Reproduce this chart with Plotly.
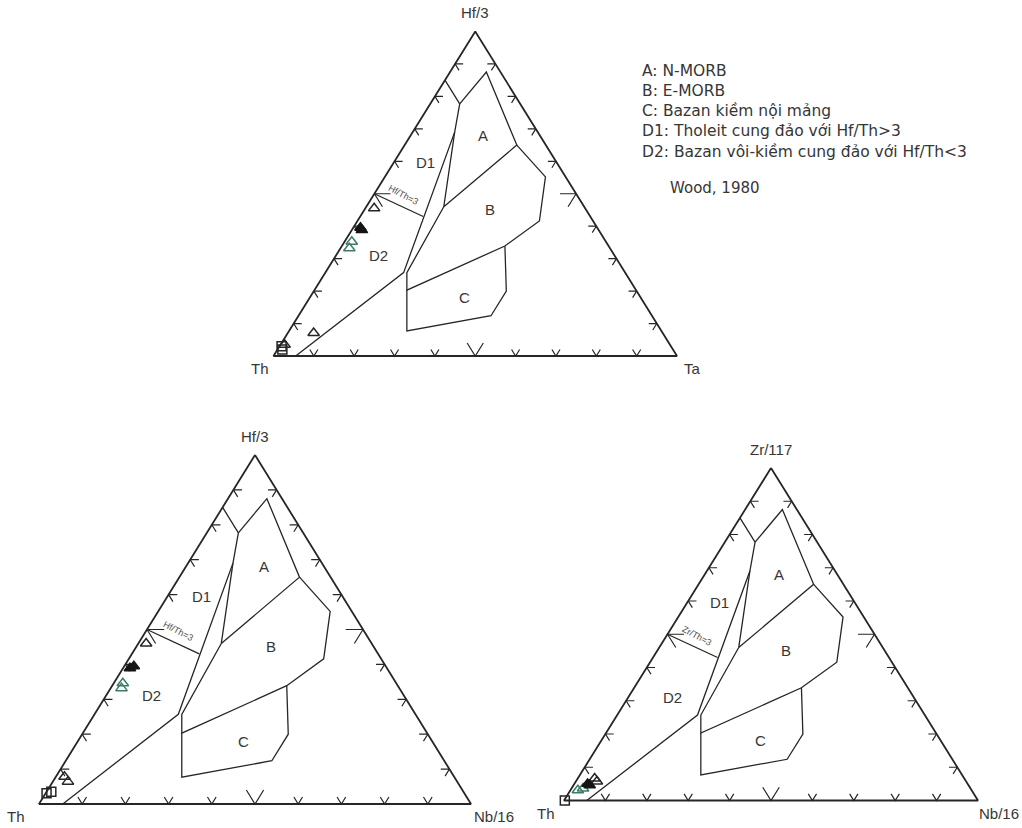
import plotly.graph_objects as go

FIG_W, FIG_H = 1022, 828

# ---------------------------------------------------------------------------
# Wood (1980) discrimination fields, given as (apex fraction, right-corner
# fraction); the left corner (Th) takes the remainder.
# ---------------------------------------------------------------------------
D_LINE_TOP = [0.850, 0.777, 0.690, 0.257, 0.000]
D_LINE_RIGHT = [0.000, 0.073, 0.104, 0.194, 0.055]

A_FIELD_TOP = [0.777, 0.875, 0.650, 0.460, 0.690]
A_FIELD_RIGHT = [0.073, 0.090, 0.278, 0.192, 0.104]

B_FIELD_TOP = [0.650, 0.552, 0.416, 0.339, 0.203, 0.257, 0.460]
B_FIELD_RIGHT = [0.278, 0.398, 0.451, 0.404, 0.229, 0.202, 0.192]

C_FIELD_TOP = [0.339, 0.200, 0.124, 0.077, 0.203]
C_FIELD_RIGHT = [0.404, 0.477, 0.477, 0.292, 0.229]

RATIO3_TOP = [0.500, 0.430]
RATIO3_RIGHT = [0.000, 0.156]

FIELD_NAMES = ["A", "B", "C", "D1", "D2"]
FIELD_LABEL_TOP = [0.680, 0.450, 0.180, 0.596, 0.310]
FIELD_LABEL_RIGHT = [0.180, 0.312, 0.384, 0.078, 0.106]

TICK_STEPS = [0.1, 0.2, 0.3, 0.4, 0.5, 0.6, 0.7, 0.8, 0.9]

# ---------------------------------------------------------------------------
# Corner names of the three diagrams
# ---------------------------------------------------------------------------
APEX_NAMES = ["Hf/3", "Hf/3", "Zr/117"]
LEFT_NAMES = ["Th", "Th", "Th"]
RIGHT_NAMES = ["Ta", "Nb/16", "Nb/16"]
RATIO_NAMES = ["Hf/Th=3", "Hf/Th=3", "Zr/Th=3"]

# ---------------------------------------------------------------------------
# Samples (apex fraction, right-corner fraction) for each diagram
# ---------------------------------------------------------------------------
# Th - Hf/3 - Ta
HFTA_OPEN_TOP = [0.455, 0.071, 0.035]
HFTA_OPEN_RIGHT = [0.022, 0.064, 0.010]
HFTA_BLACK_TOP = [0.388, 0.395]
HFTA_BLACK_RIGHT = [0.025, 0.018]
HFTA_GREEN_TOP = [0.352, 0.332]
HFTA_GREEN_RIGHT = [0.018, 0.022]
HFTA_SQUARE_TOP = [0.030, 0.020]
HFTA_SQUARE_RIGHT = [0.005, 0.012]

# Th - Hf/3 - Nb/16
HFNB_OPEN_TOP = [0.460, 0.078, 0.064]
HFNB_OPEN_RIGHT = [0.018, 0.020, 0.035]
HFNB_BLACK_TOP = [0.389, 0.395]
HFNB_BLACK_RIGHT = [0.016, 0.022]
HFNB_GREEN_TOP = [0.346, 0.332]
HFNB_GREEN_RIGHT = [0.021, 0.025]
HFNB_SQUARE_TOP = [0.031, 0.035]
HFNB_SQUARE_RIGHT = [0.002, 0.011]

# Th - Zr/117 - Nb/16
ZRNB_OPEN_TOP = [0.066, 0.057]
ZRNB_OPEN_RIGHT = [0.041, 0.051]
ZRNB_BLACK_TOP = [0.046, 0.050]
ZRNB_BLACK_RIGHT = [0.039, 0.032]
ZRNB_GREEN_TOP = [0.031, 0.036]
ZRNB_GREEN_RIGHT = [0.018, 0.028]
ZRNB_SQUARE_TOP = [0.000]
ZRNB_SQUARE_RIGHT = [0.002]

SAMPLES = [
    (HFTA_OPEN_TOP, HFTA_OPEN_RIGHT, HFTA_BLACK_TOP, HFTA_BLACK_RIGHT,
     HFTA_GREEN_TOP, HFTA_GREEN_RIGHT, HFTA_SQUARE_TOP, HFTA_SQUARE_RIGHT),
    (HFNB_OPEN_TOP, HFNB_OPEN_RIGHT, HFNB_BLACK_TOP, HFNB_BLACK_RIGHT,
     HFNB_GREEN_TOP, HFNB_GREEN_RIGHT, HFNB_SQUARE_TOP, HFNB_SQUARE_RIGHT),
    (ZRNB_OPEN_TOP, ZRNB_OPEN_RIGHT, ZRNB_BLACK_TOP, ZRNB_BLACK_RIGHT,
     ZRNB_GREEN_TOP, ZRNB_GREEN_RIGHT, ZRNB_SQUARE_TOP, ZRNB_SQUARE_RIGHT),
]

LEGEND_LINES = [
    "A: N-MORB",
    "B: E-MORB",
    "C: Bazan kiềm nội mảng",
    "D1: Tholeit cung đảo với Hf/Th>3",
    "D2: Bazan vôi-kiềm cung đảo với Hf/Th<3",
]
SOURCE_NOTE = "Wood, 1980"

# ---------------------------------------------------------------------------
# Page placement of each triangle (pixels: left corner x, right corner x,
# base y, apex y) and offsets of the corner names
# ---------------------------------------------------------------------------
FRAMES = [
    dict(xl=273.5, xr=677.0, yb=356.0, ya=31.5, lx=-3, rx=5),
    dict(xl=39.0, xr=471.0, yb=804.0, ya=455.0, lx=-12, rx=1),
    dict(xl=564.0, xr=978.0, yb=800.5, ya=468.0, lx=-7, rx=-1),
]
PAD = 0.06

FONT = "Liberation Sans, Arial, sans-serif"
NOTE_FONT = "DejaVu Sans, Liberation Sans, sans-serif"
INK = "#262626"
TEXT = "#363636"
GREEN = "#3d7d66"


def project(top, right):
    """Ternary (apex, right) fractions -> x, y in the unit triangle frame."""
    xs, ys = [], []
    for a, b in zip(top, right):
        if a is None:
            xs.append(None)
            ys.append(None)
        else:
            xs.append(b + a / 2.0)
            ys.append(a)
    return xs, ys


def tick_marks():
    """Edge tick marks: short strokes along the two other edge directions."""
    top, right = [], []
    for t in TICK_STEPS:
        d = 0.04 if abs(t - 0.5) < 1e-9 else 0.02
        # base (Th - right corner)
        top += [d, 0.0, d, None]
        right += [t, t, t - d, None]
        # left edge (Th - apex)
        top += [t, t, t - d, None]
        right += [d, 0.0, d, None]
        # right edge (apex - right corner)
        top += [t, t, t - d, None]
        right += [1 - t - d, 1 - t, 1 - t, None]
    return top, right


fig = go.Figure()
annotations = []
layout_axes = {}

for k, fr in enumerate(FRAMES):
    sfx = "" if k == 0 else str(k + 1)
    xa, ya = "x" + sfx, "y" + sfx
    w = fr["xr"] - fr["xl"]
    h = fr["yb"] - fr["ya"]
    layout_axes["xaxis" + sfx] = dict(
        domain=[(fr["xl"] - PAD * w) / FIG_W, (fr["xr"] + PAD * w) / FIG_W],
        range=[-PAD, 1 + PAD], visible=False, fixedrange=True,
        anchor=ya,
    )
    layout_axes["yaxis" + sfx] = dict(
        domain=[(FIG_H - fr["yb"] - PAD * h) / FIG_H,
                (FIG_H - fr["ya"] + PAD * h) / FIG_H],
        range=[-PAD, 1 + PAD], visible=False, fixedrange=True,
        anchor=xa,
    )

    def add_line(top, right, width, color=INK):
        x, y = project(top, right)
        fig.add_trace(go.Scatter(
            x=x, y=y, mode="lines", xaxis=xa, yaxis=ya,
            line=dict(color=color, width=width), hoverinfo="skip",
            showlegend=False, cliponaxis=False,
        ))

    # frame triangle
    add_line([1.0, 0.0, 0.0, 1.0], [0.0, 0.0, 1.0, 0.0], 1.8)
    # tick marks
    tt, tr = tick_marks()
    add_line(tt, tr, 1.2)
    # field boundaries
    add_line(D_LINE_TOP, D_LINE_RIGHT, 1.3)
    add_line(A_FIELD_TOP, A_FIELD_RIGHT, 1.3)
    add_line(B_FIELD_TOP, B_FIELD_RIGHT, 1.3)
    add_line(C_FIELD_TOP, C_FIELD_RIGHT, 1.3)
    add_line(RATIO3_TOP, RATIO3_RIGHT, 1.3)

    # samples
    (o_t, o_r, b_t, b_r, g_t, g_r, s_t, s_r) = SAMPLES[k]
    groups = [
        (s_t, s_r, "square-open", INK, 9),
        (o_t, o_r, "triangle-up-open", INK, 10),
        (g_t, g_r, "triangle-up-open", GREEN, 10),
        (b_t, b_r, "triangle-up", "#151515", 10),
    ]
    for gt, gr, sym, col, size in groups:
        x, y = project(gt, gr)
        fig.add_trace(go.Scatter(
            x=x, y=y, mode="markers", xaxis=xa, yaxis=ya,
            marker=dict(symbol=sym, size=size, color=col,
                        line=dict(color=col, width=1.5)),
            hoverinfo="skip", showlegend=False, cliponaxis=False,
        ))

    # field names
    fx, fy = project(FIELD_LABEL_TOP, FIELD_LABEL_RIGHT)
    for name, x, y in zip(FIELD_NAMES, fx, fy):
        annotations.append(dict(
            x=x, y=y, xref=xa, yref=ya, text=name, showarrow=False,
            font=dict(family=FONT, size=15, color=TEXT),
        ))
    # ratio label along the Hf/Th (Zr/Th) = 3 line
    rx, ry = project([0.495], [0.074])
    annotations.append(dict(
        x=rx[0], y=ry[0], xref=xa, yref=ya, text=RATIO_NAMES[k],
        showarrow=False, textangle=28,
        font=dict(family=FONT, size=9, color="#555555"),
    ))
    # corner names
    annotations.append(dict(
        x=0.5, y=1.0, xref=xa, yref=ya, text=APEX_NAMES[k], showarrow=False,
        xanchor="center", yanchor="bottom", yshift=8,
        font=dict(family=FONT, size=15, color=TEXT),
    ))
    annotations.append(dict(
        x=0.0, y=0.0, xref=xa, yref=ya, text=LEFT_NAMES[k], showarrow=False,
        xanchor="right", yanchor="top", xshift=fr["lx"], yshift=-2,
        font=dict(family=FONT, size=15, color=TEXT),
    ))
    annotations.append(dict(
        x=1.0, y=0.0, xref=xa, yref=ya, text=RIGHT_NAMES[k], showarrow=False,
        xanchor="left", yanchor="top", xshift=fr["rx"], yshift=-2,
        font=dict(family=FONT, size=15, color=TEXT),
    ))

# legend of the fields (one text block)
annotations.append(dict(
    x=640 / FIG_W, y=1 - 111 / FIG_H, xref="paper", yref="paper",
    text="<br>".join(LEGEND_LINES), showarrow=False, align="left",
    xanchor="left", yanchor="middle",
    font=dict(family=NOTE_FONT, size=15.5, color=TEXT),
))
annotations.append(dict(
    x=668 / FIG_W, y=1 - 188 / FIG_H, xref="paper", yref="paper",
    text=SOURCE_NOTE, showarrow=False, xanchor="left", yanchor="middle",
    font=dict(family=NOTE_FONT, size=15, color=TEXT),
))

fig.update_layout(
    width=FIG_W, height=FIG_H, autosize=False,
    margin=dict(l=0, r=0, t=0, b=0),
    paper_bgcolor="white", plot_bgcolor="white",
    annotations=annotations,
    **layout_axes,
)

fig.write_html("out.html")
